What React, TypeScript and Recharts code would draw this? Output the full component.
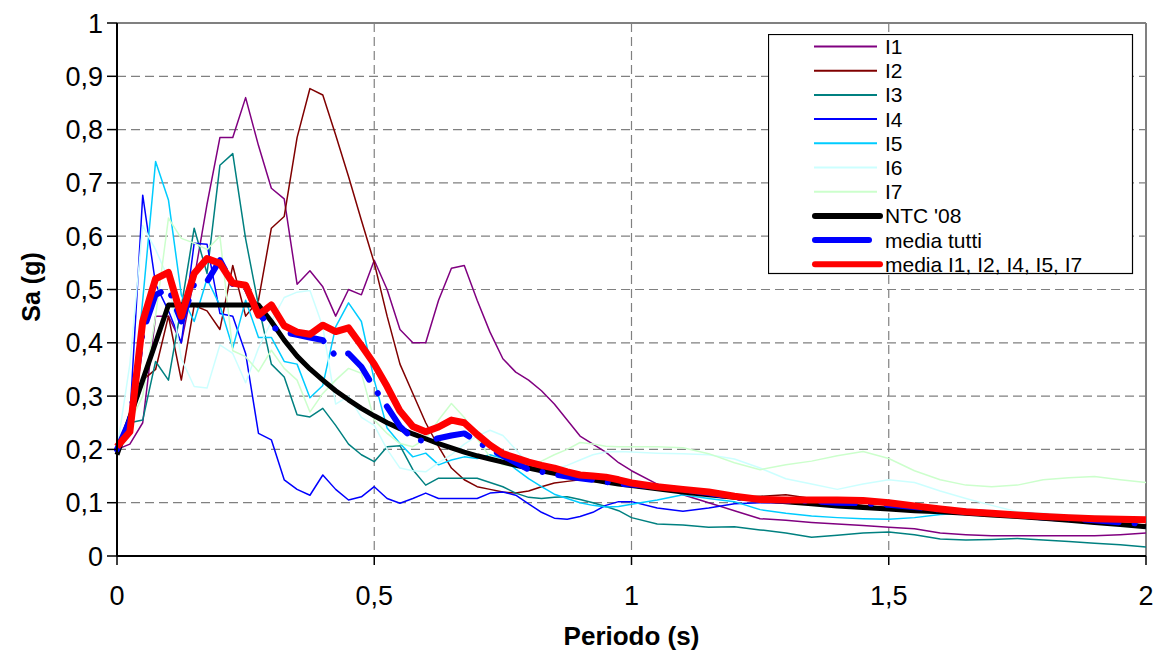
import { LineChart, Line, XAxis, YAxis, CartesianGrid, ReferenceLine, Legend, Label } from 'recharts';

const FONT = '"Liberation Sans", Arial, sans-serif';

// periodi (s)
const periodi = [
  0, 0.025, 0.05, 0.075, 0.1, 0.125, 0.15, 0.175, 0.2, 0.225,
  0.25, 0.275, 0.3, 0.325, 0.35, 0.375, 0.4, 0.425, 0.45, 0.475,
  0.5, 0.525, 0.55, 0.575, 0.6, 0.625, 0.65, 0.675, 0.7, 0.725,
  0.75, 0.775, 0.8, 0.825, 0.85, 0.875, 0.9, 0.925, 0.95, 0.975, 1,
  1.05, 1.1, 1.15, 1.2, 1.25, 1.3, 1.35, 1.4, 1.45, 1.5,
  1.55, 1.6, 1.65, 1.7, 1.75, 1.8, 1.85, 1.9, 1.95, 2,
];

const i1 = [
  0.2, 0.21, 0.25, 0.45, 0.45, 0.4, 0.52, 0.66, 0.785, 0.785,
  0.86, 0.77, 0.69, 0.67, 0.51, 0.535, 0.505, 0.45, 0.5, 0.49,
  0.555, 0.5, 0.425, 0.4, 0.4, 0.48, 0.54, 0.545, 0.48, 0.42,
  0.37, 0.345, 0.33, 0.31, 0.285, 0.255, 0.225, 0.21, 0.195, 0.175, 0.16,
  0.135, 0.115, 0.1, 0.085, 0.07, 0.067, 0.063, 0.06, 0.057, 0.054,
  0.051, 0.043, 0.04, 0.038, 0.038, 0.038, 0.038, 0.038, 0.04, 0.043,
];

const i2 = [
  0.2, 0.26, 0.33, 0.35, 0.45, 0.33, 0.47, 0.46, 0.425, 0.545,
  0.45, 0.48, 0.615, 0.637, 0.785, 0.877, 0.865, 0.79, 0.712, 0.63,
  0.55, 0.45, 0.36, 0.305, 0.25, 0.205, 0.165, 0.143, 0.13, 0.125,
  0.12, 0.118, 0.122, 0.13, 0.137, 0.14, 0.143, 0.14, 0.137, 0.134, 0.13,
  0.125, 0.12, 0.115, 0.11, 0.112, 0.115, 0.108, 0.1, 0.095, 0.09,
  0.087, 0.083, 0.08, 0.077, 0.073, 0.07, 0.067, 0.064, 0.061, 0.058,
];

const i3 = [
  0.2, 0.25, 0.255, 0.365, 0.33, 0.468, 0.615, 0.53, 0.733, 0.755,
  0.595, 0.47, 0.36, 0.336, 0.265, 0.261, 0.277, 0.245, 0.21, 0.19,
  0.177, 0.205, 0.207, 0.162, 0.133, 0.146, 0.146, 0.146, 0.146, 0.138,
  0.13, 0.118, 0.11, 0.108, 0.11, 0.111, 0.106, 0.1, 0.093, 0.085, 0.072,
  0.06, 0.058, 0.054, 0.055, 0.049, 0.043, 0.035, 0.039, 0.043, 0.045,
  0.04, 0.032, 0.03, 0.031, 0.033, 0.03, 0.027, 0.024, 0.021, 0.017,
];

const i4 = [
  0.2, 0.26, 0.677, 0.51, 0.46, 0.4, 0.587, 0.585, 0.455, 0.45,
  0.38, 0.23, 0.218, 0.143, 0.125, 0.114, 0.152, 0.125, 0.105, 0.111,
  0.13, 0.108, 0.099, 0.108, 0.118, 0.108, 0.108, 0.108, 0.108, 0.118,
  0.12, 0.114, 0.098, 0.082, 0.071, 0.069, 0.074, 0.082, 0.095, 0.102, 0.102,
  0.09, 0.084, 0.09, 0.098, 0.1, 0.1, 0.098, 0.095, 0.092, 0.088,
  0.085, 0.082, 0.078, 0.075, 0.072, 0.068, 0.065, 0.061, 0.057, 0.053,
];

const i5 = [
  0.2, 0.23, 0.48, 0.74, 0.668, 0.49, 0.44, 0.52, 0.47, 0.39,
  0.48, 0.41, 0.41, 0.365, 0.36, 0.297, 0.32, 0.43, 0.475, 0.44,
  0.33, 0.24, 0.211, 0.186, 0.193, 0.171, 0.18, 0.186, 0.183, 0.19,
  0.183, 0.163, 0.145, 0.13, 0.116, 0.108, 0.1, 0.095, 0.092, 0.093, 0.097,
  0.105, 0.115, 0.108, 0.102, 0.087, 0.08, 0.075, 0.072, 0.07, 0.069,
  0.072, 0.078, 0.08, 0.078, 0.076, 0.074, 0.072, 0.07, 0.068, 0.066,
];

const i6 = [
  0.2, 0.36, 0.62, 0.575, 0.52, 0.37, 0.318, 0.315, 0.396, 0.38,
  0.325, 0.39, 0.44, 0.485, 0.495, 0.498, 0.43, 0.285, 0.3, 0.26,
  0.245, 0.2, 0.165, 0.16, 0.158, 0.175, 0.19, 0.21, 0.225, 0.236,
  0.226, 0.2, 0.172, 0.165, 0.163, 0.17, 0.18, 0.19, 0.195, 0.196, 0.195,
  0.193, 0.192, 0.19, 0.182, 0.165, 0.145, 0.135, 0.125, 0.135, 0.143,
  0.138, 0.122, 0.108, 0.095, 0.083, 0.08, 0.077, 0.075, 0.073, 0.07,
];

const i7 = [
  0.2, 0.25, 0.3, 0.45, 0.634, 0.596, 0.587, 0.575, 0.6, 0.385,
  0.374, 0.346, 0.386, 0.352, 0.33, 0.27, 0.305, 0.33, 0.352, 0.343,
  0.255, 0.23, 0.211, 0.205, 0.22, 0.255, 0.286, 0.26, 0.22, 0.186,
  0.171, 0.168, 0.168, 0.178, 0.19, 0.2, 0.213, 0.21, 0.206, 0.205, 0.205,
  0.205, 0.203, 0.192, 0.175, 0.162, 0.171, 0.178, 0.188, 0.196, 0.183,
  0.16, 0.143, 0.133, 0.13, 0.133, 0.143, 0.147, 0.149, 0.143, 0.138,
];

const ntc08 = [
  0.19, 0.26, 0.33, 0.4, 0.471, 0.471, 0.471, 0.471, 0.471, 0.471,
  0.471, 0.471, 0.44, 0.405, 0.375, 0.351, 0.33, 0.31, 0.293, 0.277,
  0.263, 0.25, 0.239, 0.229, 0.22, 0.211, 0.203, 0.195, 0.188, 0.182,
  0.176, 0.17, 0.165, 0.16, 0.155, 0.151, 0.147, 0.143, 0.139, 0.135, 0.132,
  0.126, 0.12, 0.115, 0.11, 0.106, 0.102, 0.098, 0.094, 0.091, 0.088,
  0.085, 0.083, 0.08, 0.077, 0.074, 0.071, 0.067, 0.063, 0.059, 0.055,
];

const mediaTutti = [
  0.2, 0.255, 0.42, 0.49, 0.502, 0.44, 0.51, 0.515, 0.555, 0.51,
  0.505, 0.455, 0.43, 0.42, 0.415, 0.41, 0.405, 0.375, 0.38, 0.355,
  0.315, 0.28, 0.243, 0.22, 0.215, 0.221, 0.226, 0.23, 0.215, 0.2,
  0.188, 0.175, 0.162, 0.158, 0.153, 0.149, 0.146, 0.143, 0.139, 0.136, 0.134,
  0.13, 0.125, 0.118, 0.11, 0.105, 0.104, 0.103, 0.1, 0.099, 0.096,
  0.092, 0.087, 0.083, 0.08, 0.077, 0.074, 0.071, 0.067, 0.063, 0.06,
];

const mediaSel = [
  0.205, 0.233, 0.44, 0.52, 0.532, 0.45, 0.53, 0.558, 0.549, 0.512,
  0.508, 0.452, 0.471, 0.432, 0.42, 0.416, 0.433, 0.421, 0.428, 0.395,
  0.36, 0.318, 0.272, 0.243, 0.233, 0.242, 0.255, 0.25, 0.228, 0.208,
  0.192, 0.184, 0.176, 0.17, 0.165, 0.158, 0.152, 0.15, 0.148, 0.143, 0.137,
  0.13, 0.125, 0.12, 0.112, 0.106, 0.105, 0.105, 0.105, 0.104, 0.1,
  0.094, 0.088, 0.083, 0.08, 0.077, 0.074, 0.072, 0.07, 0.069, 0.068,
];

const xTicks = [0, 0.5, 1, 1.5, 2];
const yTicks = [0, 0.1, 0.2, 0.3, 0.4, 0.5, 0.6, 0.7, 0.8, 0.9, 1];

const serie = [
  { key: 'I1', name: 'I1', color: '#800080', width: 1.5 },
  { key: 'I2', name: 'I2', color: '#800000', width: 1.5 },
  { key: 'I3', name: 'I3', color: '#008080', width: 1.5 },
  { key: 'I4', name: 'I4', color: '#0000ff', width: 1.5 },
  { key: 'I5', name: 'I5', color: '#00ccff', width: 1.5 },
  { key: 'I6', name: 'I6', color: '#ccffff', width: 1.5 },
  { key: 'I7', name: 'I7', color: '#ccffcc', width: 1.5 },
  { key: 'ntc', name: "NTC '08", color: '#000000', width: 5 },
  { key: 'tutti', name: 'media tutti', color: '#0000ff', width: 6, dash: '34 16 0.1 16' },
  { key: 'sel', name: 'media I1, I2, I4, I5, I7', color: '#ff0000', width: 7 },
];

const rows = periodi.map((p, i) => ({
  periodo: p,
  I1: i1[i],
  I2: i2[i],
  I3: i3[i],
  I4: i4[i],
  I5: i5[i],
  I6: i6[i],
  I7: i7[i],
  ntc: ntc08[i],
  tutti: mediaTutti[i],
  sel: mediaSel[i],
}));

const virgola = (v: number) => String(v).replace('.', ',');

function Legenda() {
  return (
    <svg width={366} height={241} style={{ display: 'block' }}>
      <rect x={0.5} y={0.5} width={364} height={239} fill="#fff" stroke="#000" strokeWidth={1.2} />
      {serie.map((s, i) => {
        const cy = 12.5 + i * 24.2;
        const thick = s.width > 2;
        return (
          <g key={s.key}>
            <line
              x1={thick ? 47 : 46}
              x2={s.dash ? 101 : thick ? 112 : 109}
              y1={cy}
              y2={cy}
              stroke={s.color}
              strokeWidth={thick ? 6 : 2}
              strokeLinecap={thick ? 'round' : 'butt'}
            />
            <text x={117} y={cy + 7.5} fontFamily={FONT} fontSize={21} fill="#000">
              {s.name}
            </text>
          </g>
        );
      })}
    </svg>
  );
}

export default function App() {
  return (
    <div style={{ position: 'absolute', left: 0, top: 0, width: 1161, height: 652, background: '#fff' }}>
      <LineChart width={1161} height={652} data={rows} margin={{ top: 23, right: 15, bottom: 0, left: 0 }}>
        <CartesianGrid stroke="#808080" strokeWidth={1.2} strokeDasharray="9 5" />
        <XAxis
          dataKey="periodo"
          type="number"
          domain={[0, 2]}
          ticks={xTicks}
          tickFormatter={virgola}
          height={96}
          tickSize={9}
          tickMargin={21}
          axisLine={{ stroke: '#000', strokeWidth: 2 }}
          tickLine={{ stroke: '#000', strokeWidth: 1.5 }}
          tick={{ fill: '#000', fontSize: 27, fontFamily: FONT }}
        >
          <Label
            content={() => (
              <text x={631.5} y={645} textAnchor="middle" fontFamily={FONT} fontSize={26} fontWeight="bold" fill="#000">
                Periodo (s)
              </text>
            )}
          />
        </XAxis>
        <YAxis
          type="number"
          domain={[0, 1]}
          ticks={yTicks}
          tickFormatter={virgola}
          width={117}
          tickSize={10}
          tickMargin={4}
          axisLine={{ stroke: '#000', strokeWidth: 2 }}
          tickLine={{ stroke: '#000', strokeWidth: 1.5 }}
          tick={{ fill: '#000', fontSize: 27, fontFamily: FONT }}
        >
          <Label
            content={() => (
              <text
                x={31}
                y={287}
                transform="rotate(-90 31 287)"
                textAnchor="middle"
                dominantBaseline="central"
                fontFamily={FONT}
                fontSize={25}
                fontWeight="bold"
                fill="#000"
              >
                Sa (g)
              </text>
            )}
          />
        </YAxis>
        <ReferenceLine y={1} stroke="#808080" strokeWidth={2} />
        <ReferenceLine x={2} stroke="#808080" strokeWidth={2} />
        {serie.map((s) => (
          <Line
            key={s.key}
            type="linear"
            dataKey={s.key}
            name={s.name}
            stroke={s.color}
            strokeWidth={s.width}
            strokeDasharray={s.dash}
            strokeLinecap={s.dash ? 'round' : 'butt'}
            strokeLinejoin="round"
            dot={false}
            activeDot={false}
            isAnimationActive={false}
          />
        ))}
        <Legend
          layout="vertical"
          align="center"
          verticalAlign="middle"
          content={() => <Legenda />}
          wrapperStyle={{ left: 768, top: 34, width: 366, height: 241 }}
        />
      </LineChart>
    </div>
  );
}
